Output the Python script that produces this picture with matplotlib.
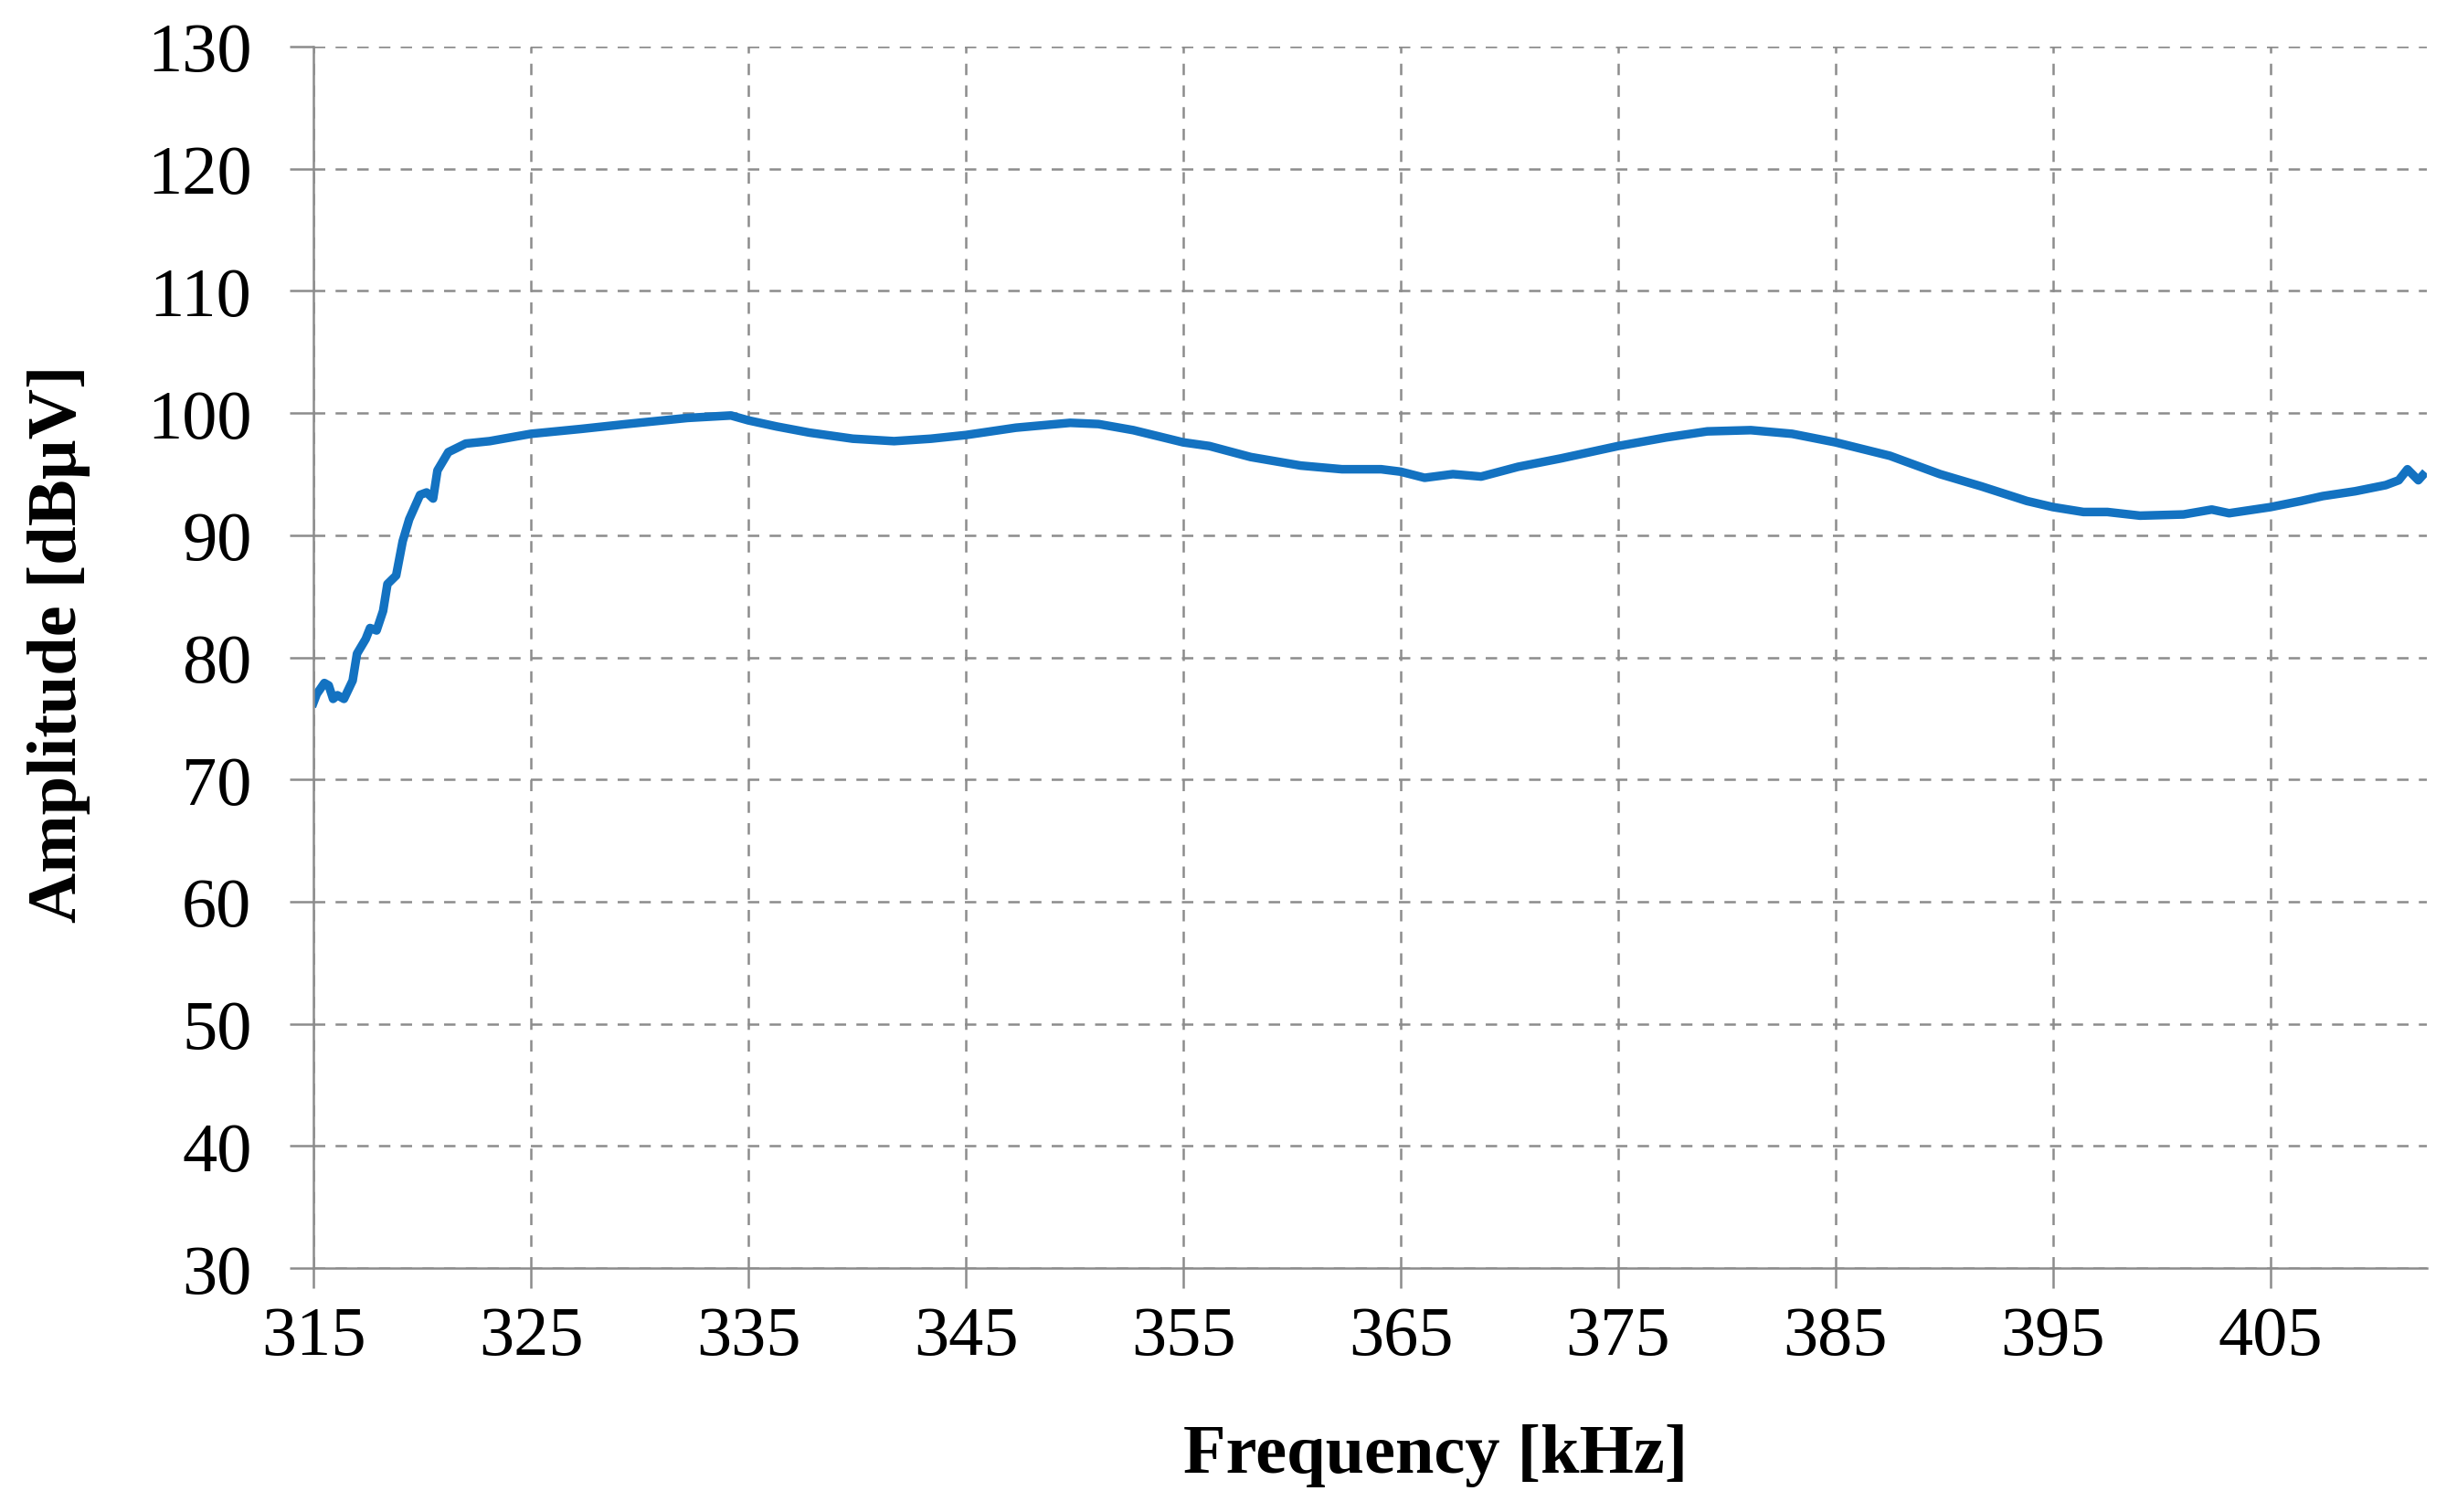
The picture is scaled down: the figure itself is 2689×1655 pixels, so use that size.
import matplotlib
matplotlib.use("Agg")
import matplotlib.pyplot as plt

# valores
freq_khz = [315.0, 315.15, 315.5, 315.7, 315.9, 316.1, 316.4, 316.8, 317.0, 317.4,
            317.6, 317.9, 318.2, 318.4, 318.8, 319.1, 319.4, 319.9, 320.2, 320.5,
            320.7, 321.2, 322.0, 323.1, 325.0, 327.3, 329.4, 332.2, 334.2, 335.0,
            336.3, 337.8, 339.8, 341.7, 343.4, 345.0, 347.3, 349.8, 351.1, 352.7,
            355.0, 356.2, 358.1, 360.4, 362.3, 364.1, 365.0, 366.1, 367.4, 368.7,
            370.4, 372.4, 375.0, 377.2, 379.1, 381.1, 383.0, 385.0, 387.5, 389.8,
            391.7, 393.8, 395.0, 396.4, 397.5, 399.0, 401.0, 402.3, 403.1, 405.0,
            406.4, 407.4, 408.9, 410.3, 410.9, 411.3, 411.8, 412.0]
amp_dbuv = [76.3, 77.0, 77.9, 77.7, 76.6, 76.9, 76.6, 78.1, 80.3, 81.5,
            82.4, 82.2, 83.8, 86.0, 86.7, 89.5, 91.3, 93.3, 93.5, 93.0,
            95.3, 96.8, 97.5, 97.7, 98.3, 98.7, 99.1, 99.6, 99.8, 99.4,
            98.9, 98.4, 97.9, 97.7, 97.9, 98.2, 98.8, 99.2, 99.1, 98.6,
            97.6, 97.3, 96.4, 95.7, 95.4, 95.4, 95.2, 94.7, 95.0, 94.8,
            95.6, 96.3, 97.3, 98.0, 98.5, 98.6, 98.3, 97.6, 96.5, 95.0,
            94.0, 92.8, 92.3, 91.9, 91.9, 91.6, 91.7, 92.1, 91.8, 92.3,
            92.8, 93.2, 93.6, 94.1, 94.5, 95.4, 94.5, 94.9]
xticks = [315, 325, 335, 345, 355, 365, 375, 385, 395, 405]
yticks = [30, 40, 50, 60, 70, 80, 90, 100, 110, 120, 130]

plt.rcParams['font.family'] = ['Liberation Serif', 'DejaVu Serif']
cinza = '#8c8c8c'

fig = plt.figure(figsize=(26.89, 16.56), dpi=100)
ax = fig.add_axes([0.1276, 0.1612, 0.8602, 0.8074])

ax.plot(freq_khz, amp_dbuv, color='#1372C1', lw=6.8, solid_joinstyle='round')

ax.set_xlim(315, 412.2)
ax.set_ylim(30, 130)
ax.set_xticks(xticks)
ax.set_yticks(yticks)
ax.grid(True, color=cinza, lw=1.8, linestyle=(0, (5, 4.5)))
ax.set_axisbelow(True)

for s in ['top', 'right']:
    ax.spines[s].set_visible(False)
for s in ['left', 'bottom']:
    ax.spines[s].set_color(cinza)
    ax.spines[s].set_linewidth(1.8)

ax.tick_params(axis='y', length=18.7, width=1.8, color=cinza, pad=30, labelsize=55)
ax.tick_params(axis='x', length=15.8, width=1.8, color=cinza, pad=14, labelsize=55)

ax.set_xlabel('Frequency [kHz]', fontsize=55, fontweight='bold', va='center')
ax.xaxis.set_label_coords(0.531, -0.1526)
ax.set_ylabel('Amplitude [dBµV]', fontsize=55, fontweight='bold', va='center')
ax.yaxis.set_label_coords(-0.1206, 0.512)

fig.savefig('out.png', dpi=100)
